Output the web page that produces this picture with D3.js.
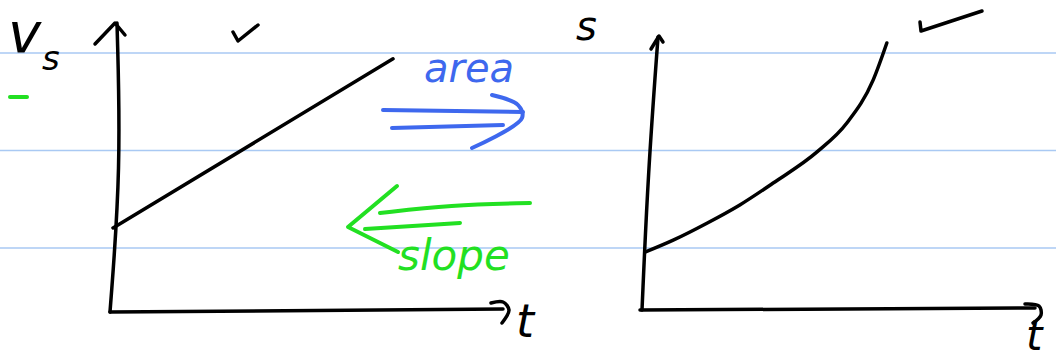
<!DOCTYPE html>
<html>
<head>
<meta charset="utf-8">
<script src="https://cdn.jsdelivr.net/npm/d3@7"></script>
<style>
  html, body { margin: 0; padding: 0; background: #fff; }
  svg { display: block; }
  text { font-family: "DejaVu Sans", sans-serif; font-style: italic; }
</style>
</head>
<body>
<svg id="chart" width="1056" height="359"></svg>
<script>
// Velocity vs. time (straight line) and position vs. time (curve)
const vTime  = [0, 7.18];
const vValue = [2.93, 8.82];

const sTime  = [0.05, 0.77, 1.63, 2.47, 3.32, 4.44, 5.2, 5.87, 6.22];
const sValue = [2.12, 2.56, 3.18, 3.85, 4.65, 5.79, 6.85, 8.42, 9.78];

// Ruled notebook lines (paper rows)
const paperRows = [0, 1, 2];

const svg = d3.select("#chart");
const ink = "#000";
const blue = "#3e68ee";
const green = "#22e022";

// paper lines
const rowY = d3.scaleLinear().domain([0, 2]).range([53, 248]);
svg.selectAll("line.row").data(paperRows).join("line")
  .attr("class", "row")
  .attr("x1", 0).attr("x2", 1056)
  .attr("y1", d => rowY(d)).attr("y2", d => rowY(d))
  .attr("stroke", "#a9c9f3").attr("stroke-width", 1.5);

const pen = (sel, color, w) => sel.attr("fill", "none").attr("stroke", color)
  .attr("stroke-width", w).attr("stroke-linecap", "round").attr("stroke-linejoin", "round");

// ---------- left panel: v_s against t ----------
const xL = d3.scaleLinear().domain([0, 10]).range([113, 503]);
const yL = d3.scaleLinear().domain([0, 10]).range([312, 25]);

// axes
svg.append("path").call(pen, ink, 3.5)
  .attr("d", d3.line().curve(d3.curveBasis)([[xL(0) - 3, yL(0)], [xL(0) + 8, yL(5)], [xL(0) + 4, yL(10) - 2]]));
svg.append("path").call(pen, ink, 3.5)
  .attr("d", d3.line()([[xL(0) - 18, yL(10) + 19], [xL(0) + 2, yL(10) - 2], [xL(0) + 12, yL(10) + 10]]));
svg.append("path").call(pen, ink, 3.5)
  .attr("d", d3.line()([[xL(0) - 3, yL(0)], [xL(10), yL(0) - 3]]));
svg.append("path").call(pen, ink, 3.5)
  .attr("d", d3.line().curve(d3.curveCatmullRom)([[xL(10) - 12, yL(0) - 9], [xL(10), yL(0) - 10], [xL(10) + 6, yL(0) - 2], [xL(10) - 1, yL(0) + 11]]));

// v(t)
svg.append("path").call(pen, ink, 3.5)
  .attr("d", d3.line().x((d, i) => xL(d)).y((d, i) => yL(vValue[i]))(vTime));

// ---------- right panel: s against t ----------
const xR = d3.scaleLinear().domain([0, 10]).range([643, 1035]);
const yR = d3.scaleLinear().domain([0, 10]).range([310, 37]);

svg.append("path").call(pen, ink, 3.5)
  .attr("d", d3.line().curve(d3.curveBasis)([[xR(0) - 1, yR(0)], [xR(0) + 5, yR(5)], [xR(0) + 15, yR(10)]]));
svg.append("path").call(pen, ink, 3.5)
  .attr("d", d3.line()([[xR(0) + 8, yR(10) + 12], [xR(0) + 16, yR(10) - 1], [xR(0) + 20, yR(10) + 5]]));
svg.append("path").call(pen, ink, 3.5)
  .attr("d", d3.line()([[xR(0) - 3, yR(0)], [xR(10), yR(0) - 2]]));
svg.append("path").call(pen, ink, 3.5)
  .attr("d", d3.line().curve(d3.curveCatmullRom)([[xR(10) - 10, yR(0) - 6], [xR(10) + 4, yR(0) - 4], [xR(10) + 6, yR(0) + 5], [xR(10) - 2, yR(0) + 13]]));

// s(t)
svg.append("path").call(pen, ink, 3.5)
  .attr("d", d3.line().curve(d3.curveMonotoneX).x(d => xR(d)).y((d, i) => yR(sValue[i]))(sTime));

// ---------- labels ----------
svg.append("text").attr("x", 8).attr("y", 52).attr("font-size", 56).attr("fill", ink).text("v");
svg.append("text").attr("x", 42).attr("y", 70).attr("font-size", 34).attr("fill", ink).text("s");
svg.append("text").attr("x", 576).attr("y", 40).attr("font-size", 40).attr("fill", ink).text("s");
svg.append("text").attr("x", 516).attr("y", 337).attr("font-size", 46).attr("fill", ink).text("t");
svg.append("text").attr("x", 1026).attr("y", 350).attr("font-size", 42).attr("fill", ink).text("t");

// check marks
svg.append("path").call(pen, ink, 3.5)
  .attr("d", d3.line()([[233, 32], [238, 41], [258, 25]]));
svg.append("path").call(pen, ink, 3.5)
  .attr("d", d3.line()([[920, 22], [921, 31], [982, 11]]));

// green dash
svg.append("path").call(pen, green, 4).attr("d", d3.line()([[10, 97], [27, 97]]));

// "area" arrow (blue, pointing right)
svg.append("text").attr("x", 424).attr("y", 82).attr("font-size", 40).attr("fill", blue).text("area");
svg.append("path").call(pen, blue, 4).attr("d", d3.line()([[383, 110], [523, 112]]));
svg.append("path").call(pen, blue, 4).attr("d", d3.line()([[392, 128], [503, 125]]));
svg.append("path").call(pen, blue, 4)
  .attr("d", d3.line().curve(d3.curveCatmullRom)([[492, 95], [518, 105], [522, 118], [472, 148]]));

// "slope" arrow (green, pointing left)
svg.append("text").attr("x", 398).attr("y", 270).attr("font-size", 42).attr("fill", green).text("slope");
svg.append("path").call(pen, green, 4).attr("d", d3.line().curve(d3.curveBasis)([[380, 213], [450, 205], [530, 203]]));
svg.append("path").call(pen, green, 4).attr("d", d3.line()([[365, 229], [460, 223]]));
svg.append("path").call(pen, green, 4)
  .attr("d", d3.line()([[397, 186], [348, 227], [398, 252]]));
</script>
</body>
</html>
